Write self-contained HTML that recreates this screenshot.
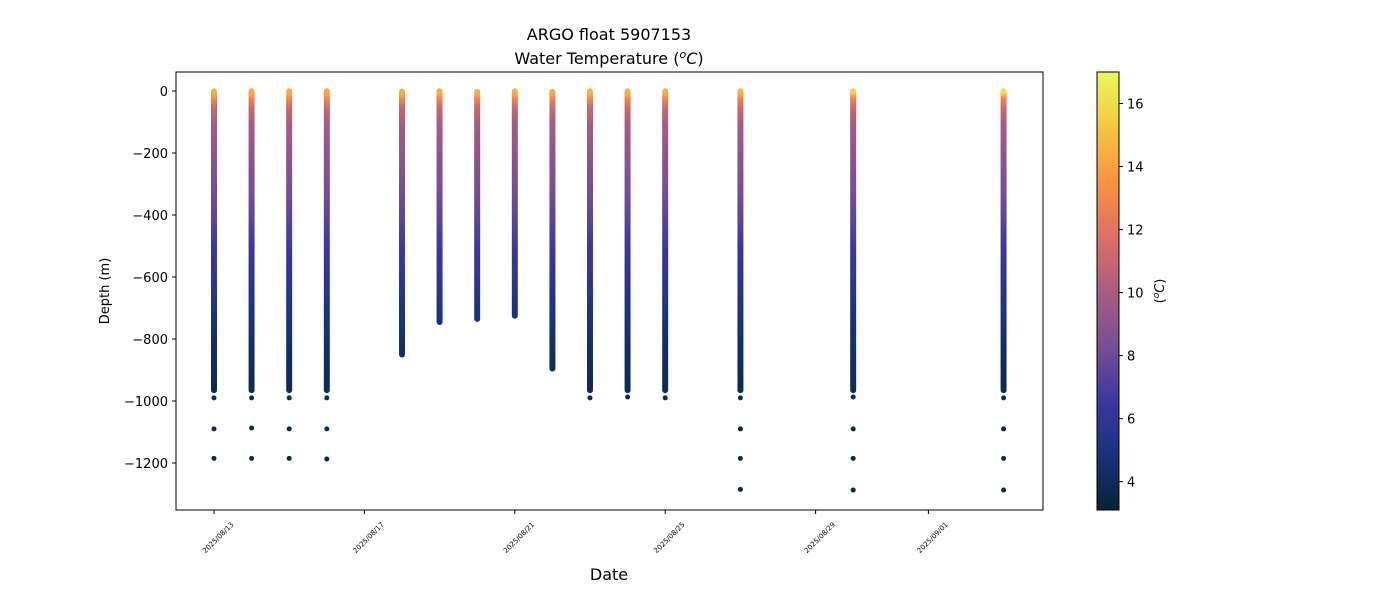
<!DOCTYPE html>
<html><head><meta charset="utf-8"><style>
body{margin:0;background:#fff;font-family:"Liberation Sans","DejaVu Sans",sans-serif;}
svg text{font-family:"DejaVu Sans","Liberation Sans",sans-serif;}
</style></head><body>
<svg id="chart" width="1400" height="600" viewBox="0 0 1400 600" xmlns="http://www.w3.org/2000/svg">
<defs>
<linearGradient id="cbgrad" x1="0" y1="1" x2="0" y2="0">
<stop offset="0" stop-color="rgb(4,35,51)"/>
<stop offset="0.125" stop-color="rgb(23,51,122)"/>
<stop offset="0.25" stop-color="rgb(60,55,160)"/>
<stop offset="0.375" stop-color="rgb(120,78,150)"/>
<stop offset="0.5" stop-color="rgb(170,92,130)"/>
<stop offset="0.625" stop-color="rgb(222,112,100)"/>
<stop offset="0.75" stop-color="rgb(249,147,65)"/>
<stop offset="0.875" stop-color="rgb(246,198,65)"/>
<stop offset="1" stop-color="rgb(232,250,91)"/>
</linearGradient>
</defs>
<text x="609" y="40" font-size="16" text-anchor="middle">ARGO float 5907153</text>
<text x="609" y="64" font-size="16" text-anchor="middle">Water Temperature (<tspan font-style="italic" dy="-6" font-size="11">o</tspan><tspan dy="6" font-style="italic">C</tspan>)</text>
<g id="marks"></g>
<rect x="176" y="72" width="867" height="438" fill="none" stroke="#000" stroke-width="1"/>
<g id="xaxis"></g>
<g id="yaxis"></g>
<text x="609" y="580" font-size="16" text-anchor="middle">Date</text>
<text transform="translate(109,291) rotate(-90)" font-size="13" text-anchor="middle">Depth (m)</text>
<rect x="1097" y="72" width="22" height="438" fill="url(#cbgrad)" stroke="#000" stroke-width="1"/>
<g id="cbaxis"></g>
<text transform="translate(1164,291) rotate(-90)" font-size="13" text-anchor="middle">(<tspan font-style="italic" dy="-5" font-size="9">o</tspan><tspan dy="5" font-style="italic">C</tspan>)</text>
</svg>
<script>
const NS="http://www.w3.org/2000/svg";
// data
const profileDays=[0,1,2,3,5,6,7,8,9,10,11,12,14,17,21];
const profileMaxDepth=[965,965,965,965,850,745,735,725,895,965,965,965,965,965,965];
const extraDepths=[[990,1090,1185],[990,1087,1185],[990,1090,1185],[990,1090,1187],[],[],[],[],[],[990],[987],[990],[990,1090,1185,1285],[987,1090,1185,1287],[990,1090,1185,1287]];
const surfaceTemp=[14.5,14.3,14.5,14.2,14.5,14.5,14.7,14.5,14.5,14.7,14.6,14.5,14.8,15.8,16.3];
const profDepth=[0,10,20,50,100,200,300,400,500,600,700,800,900,1000,1300];
const profTemp=[14.5,14,12.8,11,10,9.1,8.4,7.6,6.6,5.9,5.1,4.5,4.1,3.9,3.6];
const xTickDays=[0,4,8,12,16,19];
const xTickLabels=["2025/08/13","2025/08/17","2025/08/21","2025/08/25","2025/08/29","2025/09/01"];
const yTicks=[0,-200,-400,-600,-800,-1000,-1200];
const cbTicks=[4,6,8,10,12,14,16];
// scales
const xS=d=>214+d*37.6;
const yS=v=>91-v*0.31;
const cMin=3.1,cMax=17;
const cbY=t=>510-(t-cMin)/(cMax-cMin)*438;
const stops=[[0,[4,35,51]],[0.125,[23,51,122]],[0.25,[60,55,160]],[0.375,[120,78,150]],[0.5,[170,92,130]],[0.625,[222,112,100]],[0.75,[249,147,65]],[0.875,[246,198,65]],[1,[232,250,91]]];
function cmap(t){let f=Math.max(0,Math.min(1,(t-cMin)/(cMax-cMin)));for(let i=1;i<stops.length;i++){if(f<=stops[i][0]){const a=stops[i-1],b=stops[i];const u=(f-a[0])/(b[0]-a[0]);const c=a[1].map((v,k)=>Math.round(v+(b[1][k]-v)*u));return `rgb(${c})`;}}return 'rgb(232,250,91)';}
function tempAt(d,surf){for(let i=1;i<profDepth.length;i++){if(d<=profDepth[i]){const u=(d-profDepth[i-1])/(profDepth[i]-profDepth[i-1]);let a=profTemp[i-1],b=profTemp[i];if(i===1)a=surf;return a+(b-a)*u;}}return profTemp[profTemp.length-1];}
const g=document.getElementById('marks');
function dot(x,y,col,r){const c=document.createElementNS(NS,'circle');


c.setAttribute('cx',x);c.setAttribute('cy',y);c.setAttribute('r',r);c.setAttribute('fill',col);g.appendChild(c);}
profileDays.forEach((day,i)=>{const x=xS(day);
 for(let d=profileMaxDepth[i];d>=0;d-=4){dot(x,yS(-d),cmap(tempAt(d,surfaceTemp[i])),3);}
 extraDepths[i].forEach(d=>dot(x,yS(-d),cmap(tempAt(d,surfaceTemp[i])),2.5));
});
const xa=document.getElementById('xaxis');
xTickDays.forEach((d,i)=>{const x=xS(d);
 const l=document.createElementNS(NS,'line');
 
 
 l.setAttribute('x1',x);l.setAttribute('x2',x);l.setAttribute('y1',510);l.setAttribute('y2',514);l.setAttribute('stroke','#000');xa.appendChild(l);
 const t=document.createElementNS(NS,'text');
 
 
 t.setAttribute('font-size','7');t.setAttribute('text-anchor','end');
 t.setAttribute('transform',`translate(${x+20},525) rotate(-45)`);t.textContent=xTickLabels[i];xa.appendChild(t);});
const ya=document.getElementById('yaxis');
yTicks.forEach(v=>{const y=yS(v);
 const l=document.createElementNS(NS,'line');
 
 
 l.setAttribute('x1',172);l.setAttribute('x2',176);l.setAttribute('y1',y);l.setAttribute('y2',y);l.setAttribute('stroke','#000');ya.appendChild(l);
 const t=document.createElementNS(NS,'text');
 
 
 t.setAttribute('font-size','13');t.setAttribute('text-anchor','end');t.setAttribute('x',168);t.setAttribute('y',y+5);
 t.textContent=v<0?'\u2212'+(-v):String(v);ya.appendChild(t);});
const cb=document.getElementById('cbaxis');
cbTicks.forEach(v=>{const y=cbY(v);
 const l=document.createElementNS(NS,'line');
 
 
 l.setAttribute('x1',1119);l.setAttribute('x2',1123);l.setAttribute('y1',y);l.setAttribute('y2',y);l.setAttribute('stroke','#000');cb.appendChild(l);
 const t=document.createElementNS(NS,'text');
 
 
 t.setAttribute('font-size','13');t.setAttribute('x',1127);t.setAttribute('y',y+5);t.textContent=v;cb.appendChild(t);});
</script>
</body></html>
